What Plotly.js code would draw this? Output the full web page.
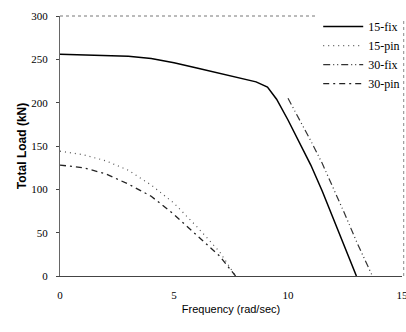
<!DOCTYPE html>
<html>
<head>
<meta charset="utf-8">
<script src="https://cdn.plot.ly/plotly-3.0.1.min.js"></script>
<style>html,body{margin:0;padding:0;background:#fff;}#chart{width:406px;height:332px;}</style>
</head>
<body>
<div id="chart"></div>
<script>
// Frequency (rad/sec) and total load (kN)
const fix15X = [0, 1, 2, 3, 4, 5, 6, 7, 8, 8.6, 9.1, 9.5, 10, 10.5, 11, 11.5, 12, 12.5, 13.0];
const fix15Y = [256, 255, 254, 253.5, 251, 246, 240, 234, 228, 224, 218, 204, 180, 154, 128, 98, 66, 33, 0];

const pin15X = [0, 1, 2, 3, 4, 5, 6, 7, 7.7];
const pin15Y = [144, 140, 133, 122, 105, 84, 57, 28, 0];

const fix30X = [10, 10.5, 11, 11.5, 12, 12.5, 13, 13.7];
const fix30Y = [205, 181, 156, 130, 101, 71, 40, 0];

const pin30X = [0, 1, 2, 3, 4, 5, 6, 7, 7.7];
const pin30Y = [128, 125, 118, 106, 92, 71, 47, 23, 0];

const seriesNames = ["15-fix", "15-pin", "30-fix", "30-pin"];
const xTicks = [0, 5, 10, 15];
const yTicks = [0, 50, 100, 150, 200, 250, 300];

const serif = "Liberation Serif, Times New Roman, serif";
const sans = "Liberation Sans, Arial, sans-serif";

const traces = [
  {x: fix15X, y: fix15Y, name: seriesNames[0], mode: "lines",
   line: {color: "#000", width: 1.5, dash: "solid"}},
  {x: pin15X, y: pin15Y, name: seriesNames[1], mode: "lines",
   line: {color: "#555", width: 1.2, dash: "1px,4px"}},
  {x: fix30X, y: fix30Y, name: seriesNames[2], mode: "lines",
   line: {color: "#333", width: 1.2, dash: "7px,3px,1px,3px,1px,3px"}},
  {x: pin30X, y: pin30Y, name: seriesNames[3], mode: "lines",
   line: {color: "#222", width: 1.3, dash: "6px,4px,2px,4px"}}
];

const layout = {
  width: 406, height: 332,
  margin: {l: 60, r: 4, t: 16, b: 56, autoexpand: false},
  paper_bgcolor: "#fff", plot_bgcolor: "#fff",
  showlegend: true,
  legend: {x: 0.755, y: 1.015, xanchor: "left", yanchor: "top",
           bgcolor: "rgba(255,255,255,0)", borderwidth: 0,
           font: {family: serif, size: 12, color: "#000"},
           itemwidth: 40, tracegroupgap: 0},
  xaxis: {range: [0, 15], tickvals: xTicks, ticktext: xTicks.map(String), automargin: false,
          showgrid: false, zeroline: false, showline: true, linecolor: "#444", linewidth: 1,
          ticks: "", tickfont: {family: serif, size: 11, color: "#000"},
          ticklabelstandoff: 9, ticklabeloverflow: "allow",
          title: {text: "Frequency (rad/sec)", font: {family: sans, size: 11, color: "#000"}, standoff: 5}},
  yaxis: {range: [0, 300], tickvals: yTicks, ticktext: yTicks.map(String), automargin: false,
          showgrid: false, zeroline: false, showline: true, linecolor: "#666", linewidth: 1,
          ticks: "outside", ticklen: 3, tickcolor: "#444",
          tickfont: {family: serif, size: 11, color: "#000"},
          ticklabelstandoff: 6,
          title: {text: "<b>Total Load (kN)</b>", font: {family: sans, size: 12, color: "#000"}, standoff: 2}},
  shapes: [
    {type: "line", xref: "paper", yref: "paper", x0: 0, x1: 0.75, y0: 1, y1: 1,
     line: {color: "#777", width: 1, dash: "dot"}},
    {type: "line", xref: "paper", yref: "paper", x0: 1.005, x1: 1.005, y0: 0, y1: 0.99,
     line: {color: "#888", width: 1, dash: "dot"}}
  ]
};

Plotly.newPlot("chart", traces, layout, {displayModeBar: false, staticPlot: true});
</script>
</body>
</html>
